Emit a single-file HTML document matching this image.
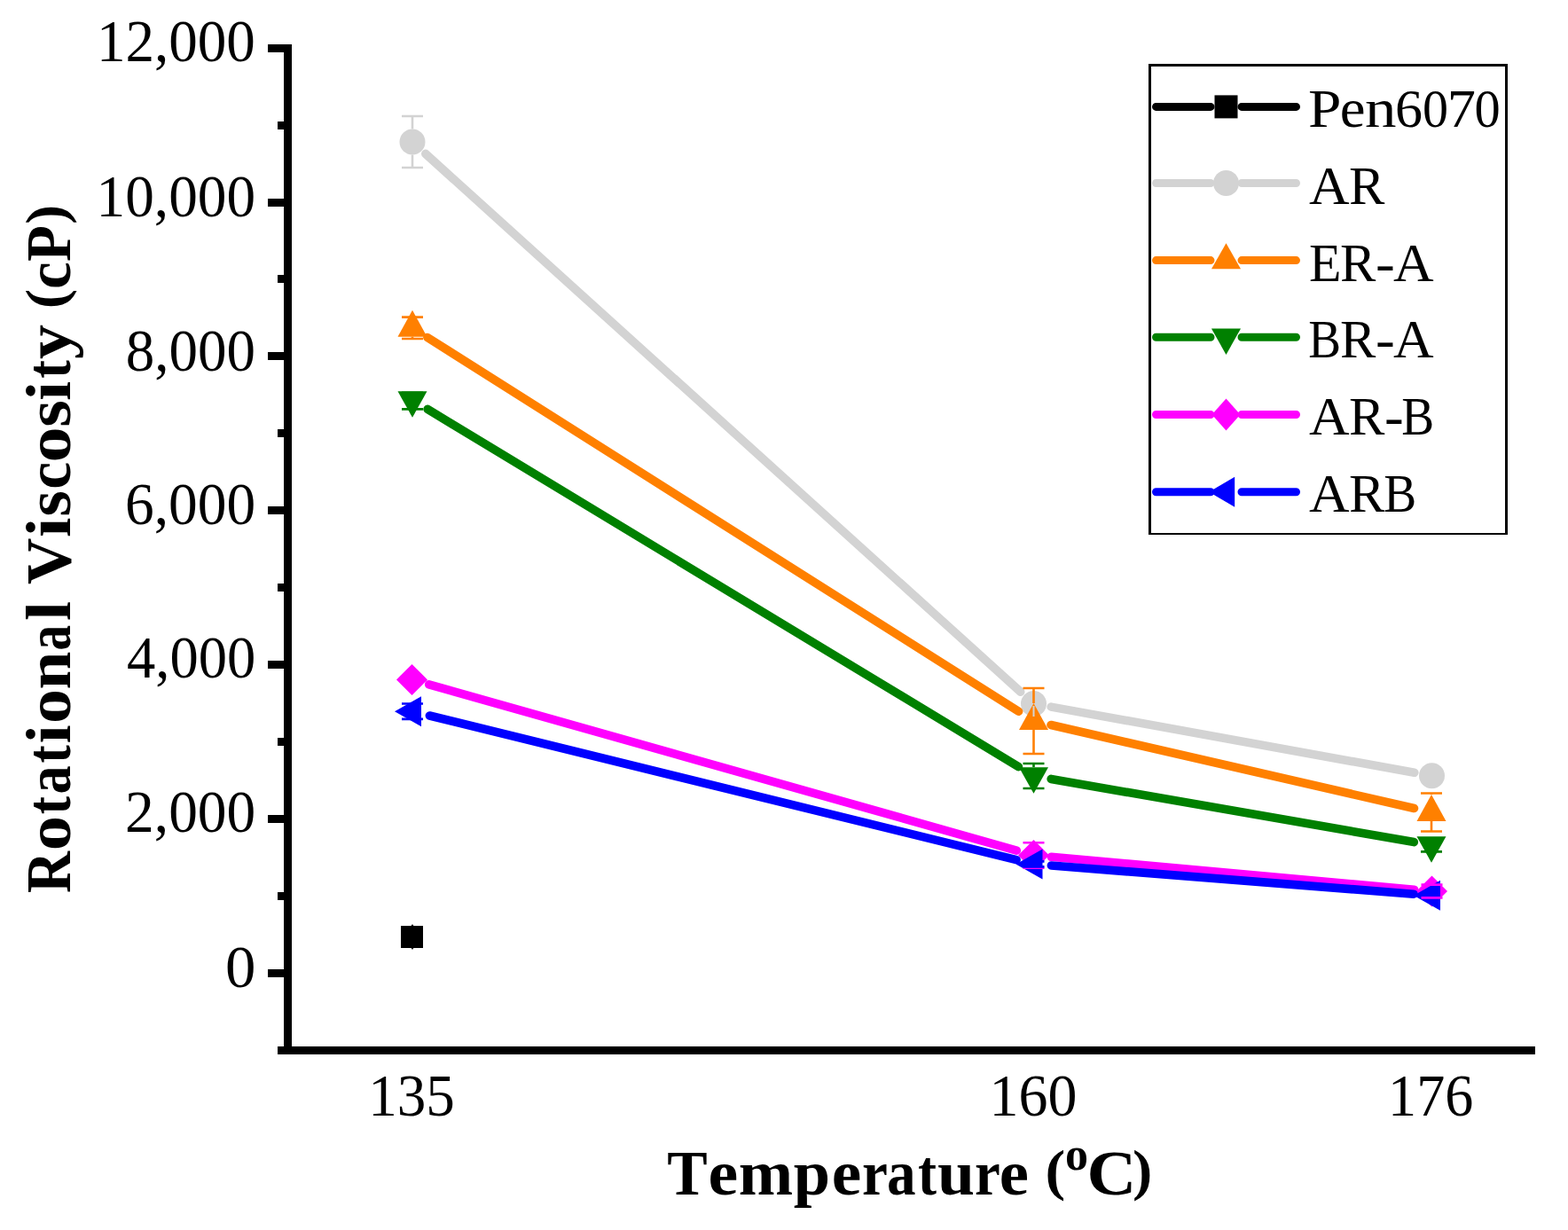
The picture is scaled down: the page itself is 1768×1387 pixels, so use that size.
<!DOCTYPE html>
<html><head><meta charset="utf-8"><title>Rotational Viscosity vs Temperature</title>
<style>html,body{margin:0;padding:0;background:#fff;overflow:hidden;}svg{display:block;}
text{font-family:"Liberation Serif",serif;fill:#000;}</style></head>
<body>
<svg width="1768" height="1387" viewBox="0 0 1768 1387">
<rect width="1768" height="1387" fill="#fff"/>
<g fill="#000">
<rect x="320" y="50" width="9" height="1139"/>
<rect x="313" y="1180" width="1418" height="9"/>
<rect x="302" y="1093" width="18" height="9"/>
<rect x="302" y="919" width="18" height="9"/>
<rect x="302" y="745" width="18" height="9"/>
<rect x="302" y="571" width="18" height="9"/>
<rect x="302" y="397" width="18" height="9"/>
<rect x="302" y="224" width="18" height="9"/>
<rect x="302" y="50" width="18" height="9"/>
<rect x="313" y="1006" width="7" height="9"/>
<rect x="313" y="832" width="7" height="9"/>
<rect x="313" y="658" width="7" height="9"/>
<rect x="313" y="484" width="7" height="9"/>
<rect x="313" y="310" width="7" height="9"/>
<rect x="313" y="137" width="7" height="9"/>
</g>
<rect x="452.0" y="1044.0" width="25.0" height="25.0" fill="#000"/>
<line x1="479.8" y1="173.4" x2="1150.7" y2="780.1" stroke="#d3d3d3" stroke-width="9.6" stroke-linecap="round"/>
<line x1="1185.2" y1="797.1" x2="1594.8" y2="871.2" stroke="#d3d3d3" stroke-width="9.6" stroke-linecap="round"/>
<circle cx="465.0" cy="160.0" r="14.5" fill="#d3d3d3"/>
<circle cx="1165.5" cy="793.5" r="14.5" fill="#d3d3d3"/>
<circle cx="1614.5" cy="874.8" r="14.5" fill="#d3d3d3"/>
<line x1="481.9" y1="380.5" x2="1148.6" y2="802.3" stroke="#ff8000" stroke-width="9.6" stroke-linecap="round"/>
<line x1="1185.0" y1="817.5" x2="1594.5" y2="911.5" stroke="#ff8000" stroke-width="9.6" stroke-linecap="round"/>
<polygon points="465.0,349.8 481.5,379.8 448.5,379.8" fill="#ff8000"/>
<polygon points="1165.5,793.0 1182.0,823.0 1149.0,823.0" fill="#ff8000"/>
<polygon points="1614.0,896.0 1630.5,926.0 1597.5,926.0" fill="#ff8000"/>
<line x1="482.1" y1="461.4" x2="1148.4" y2="864.6" stroke="#008000" stroke-width="9.6" stroke-linecap="round"/>
<line x1="1185.2" y1="878.4" x2="1594.3" y2="949.6" stroke="#008000" stroke-width="9.6" stroke-linecap="round"/>
<polygon points="448.5,441.2 481.5,441.2 465.0,470.7" fill="#008000"/>
<polygon points="1149.0,865.2 1182.0,865.2 1165.5,894.7" fill="#008000"/>
<polygon points="1597.5,943.2 1630.5,943.2 1614.0,972.7" fill="#008000"/>
<line x1="483.7" y1="771.8" x2="1146.3" y2="959.1" stroke="#ff00ff" stroke-width="9.6" stroke-linecap="round"/>
<line x1="1185.4" y1="966.3" x2="1594.6" y2="1003.2" stroke="#ff00ff" stroke-width="9.6" stroke-linecap="round"/>
<polygon points="464.5,748.9 482.0,766.4 464.5,783.9 447.0,766.4" fill="#ff00ff"/>
<polygon points="1165.5,947.0 1183.0,964.5 1165.5,982.0 1148.0,964.5" fill="#ff00ff"/>
<polygon points="1614.5,987.5 1632.0,1005.0 1614.5,1022.5 1597.0,1005.0" fill="#ff00ff"/>
<line x1="484.4" y1="807.0" x2="1146.1" y2="969.6" stroke="#0000ff" stroke-width="9.6" stroke-linecap="round"/>
<line x1="1185.4" y1="976.0" x2="1594.1" y2="1008.2" stroke="#0000ff" stroke-width="9.6" stroke-linecap="round"/>
<polygon points="445.0,802.2 475.0,785.2 475.0,819.2" fill="#0000ff"/>
<polygon points="1145.5,974.4 1175.5,957.4 1175.5,991.4" fill="#0000ff"/>
<polygon points="1594.0,1009.8 1624.0,992.8 1624.0,1026.8" fill="#0000ff"/>
<path d="M465,1043.5V1069.5" stroke="#000" stroke-width="2.2" stroke-linecap="round"/>
<path d="M465.0,131.0V145.5M465.0,174.5V189.0M453.0,131.0H477.0M453.0,189.0H477.0" stroke="#d3d3d3" stroke-width="2.6" fill="none"/>


<path d="M465.0,379.8V382.0M453.0,357.6H477.0M453.0,382.0H477.0" stroke="#ff8000" stroke-width="2.6" fill="none"/>
<path d="M1165.5,776.0V793.0M1165.5,823.0V850.0M1153.5,776.0H1177.5M1153.5,850.0H1177.5" stroke="#ff8000" stroke-width="2.6" fill="none"/>
<path d="M1614.0,894.5V896.0M1614.0,926.0V937.5M1602.0,894.5H1626.0M1602.0,937.5H1626.0" stroke="#ff8000" stroke-width="2.6" fill="none"/>
<path d="M453.0,442.7H477.0M453.0,461.4H477.0" stroke="#008000" stroke-width="2.6" fill="none"/>
<path d="M1165.5,861.0V865.0M1153.5,861.0H1177.5M1153.5,889.0H1177.5" stroke="#008000" stroke-width="2.6" fill="none"/>
<path d="M1602.0,945.6H1626.0M1602.0,960.4H1626.0" stroke="#008000" stroke-width="2.6" fill="none"/>

<path d="M1153.5,950.2H1177.5M1153.5,978.8H1177.5" stroke="#ff00ff" stroke-width="2.6" fill="none"/>
<path d="M1602.5,997.6H1626.5M1602.5,1012.4H1626.5" stroke="#ff00ff" stroke-width="2.6" fill="none"/>
<path d="M453.0,793.5H477.0M453.0,810.9H477.0" stroke="#0000ff" stroke-width="2.6" fill="none"/>
<path d="M1153.5,971.4H1177.5M1153.5,977.4H1177.5" stroke="#0000ff" stroke-width="2.6" fill="none"/>

<rect x="1164.5" y="796" width="2" height="12" fill="#d3d3d3"/>
<path d="M1295,72h405v3h-405zM1295,72h3v531h-3zM1697,72h3v531h-3zM1295,601h405v2h-405z" fill="#000"/>
<path d="M1303.5,120.4H1365M1400,120.4H1461.5" stroke="#000" stroke-width="9" stroke-linecap="round" fill="none"/>
<rect x="1369.5" y="107.4" width="26.0" height="26.0" fill="#000"/>
<path d="M1303.5,206.5H1365M1400,206.5H1461.5" stroke="#d3d3d3" stroke-width="9" stroke-linecap="round" fill="none"/>
<circle cx="1382.5" cy="206.5" r="14.5" fill="#d3d3d3"/>
<path d="M1303.5,293.6H1365M1400,293.6H1461.5" stroke="#ff8000" stroke-width="9" stroke-linecap="round" fill="none"/>
<polygon points="1382.5,274.3 1399.0,303.3 1366.0,303.3" fill="#ff8000"/>
<path d="M1303.5,380.3H1365M1400,380.3H1461.5" stroke="#008000" stroke-width="9" stroke-linecap="round" fill="none"/>
<polygon points="1366.0,370.5 1399.0,370.5 1382.5,400.0" fill="#008000"/>
<path d="M1303.5,467.5H1365M1400,467.5H1461.5" stroke="#ff00ff" stroke-width="9" stroke-linecap="round" fill="none"/>
<polygon points="1382.5,449.5 1398.5,467.5 1382.5,485.5 1366.5,467.5" fill="#ff00ff"/>
<path d="M1303.5,554.7H1365M1400,554.7H1461.5" stroke="#0000ff" stroke-width="9" stroke-linecap="round" fill="none"/>
<polygon points="1363.2,554.7 1392.2,537.7 1392.2,571.7" fill="#0000ff"/>
<text x="254.0" y="1112.8" font-size="68" textLength="34.4" lengthAdjust="spacingAndGlyphs">0</text>
<text x="141.1" y="937.9" font-size="68" textLength="147.1" lengthAdjust="spacingAndGlyphs">2,000</text>
<text x="143.0" y="764.2" font-size="68" textLength="145.2" lengthAdjust="spacingAndGlyphs">4,000</text>
<text x="141.0" y="590.9" font-size="68" textLength="147.2" lengthAdjust="spacingAndGlyphs">6,000</text>
<text x="141.8" y="417.5" font-size="68" textLength="146.3" lengthAdjust="spacingAndGlyphs">8,000</text>
<text x="108.6" y="243.7" font-size="68" textLength="179.5" lengthAdjust="spacingAndGlyphs">10,000</text>
<text x="109.0" y="69.2" font-size="68" textLength="178.9" lengthAdjust="spacingAndGlyphs">12,000</text>
<text x="415.3" y="1258" font-size="68" textLength="97.6" lengthAdjust="spacingAndGlyphs">135</text>
<text x="1115.5" y="1258" font-size="68" textLength="98.9" lengthAdjust="spacingAndGlyphs">160</text>
<text x="1565.1" y="1258" font-size="68" textLength="96.1" lengthAdjust="spacingAndGlyphs">176</text>
<text font-size="62"><tspan x="1475.0" y="143" textLength="37.4" lengthAdjust="spacingAndGlyphs">P</tspan><tspan x="1510.8" y="143" textLength="28.8" lengthAdjust="spacingAndGlyphs">e</tspan><tspan x="1539.1" y="143" textLength="35.5" lengthAdjust="spacingAndGlyphs">n</tspan><tspan x="1573.0" y="143" textLength="31.0" lengthAdjust="spacingAndGlyphs">6</tspan><tspan x="1604.1" y="143" textLength="29.0" lengthAdjust="spacingAndGlyphs">0</tspan><tspan x="1631.7" y="143" textLength="32.2" lengthAdjust="spacingAndGlyphs">7</tspan><tspan x="1662.6" y="143" textLength="29.2" lengthAdjust="spacingAndGlyphs">0</tspan></text>
<text font-size="62"><tspan x="1476.1" y="230" textLength="45.6" lengthAdjust="spacingAndGlyphs">A</tspan><tspan x="1520.9" y="230" textLength="40.4" lengthAdjust="spacingAndGlyphs">R</tspan></text>
<text font-size="62"><tspan x="1476.1" y="317" textLength="36.5" lengthAdjust="spacingAndGlyphs">E</tspan><tspan x="1511.1" y="317" textLength="40.3" lengthAdjust="spacingAndGlyphs">R</tspan><tspan x="1551.0" y="317" textLength="21.8" lengthAdjust="spacingAndGlyphs">-</tspan><tspan x="1571.1" y="317" textLength="45.6" lengthAdjust="spacingAndGlyphs">A</tspan></text>
<text font-size="62"><tspan x="1475.3" y="403.4" textLength="36.8" lengthAdjust="spacingAndGlyphs">B</tspan><tspan x="1511.1" y="403.4" textLength="40.3" lengthAdjust="spacingAndGlyphs">R</tspan><tspan x="1551.0" y="403.4" textLength="21.8" lengthAdjust="spacingAndGlyphs">-</tspan><tspan x="1571.1" y="403.4" textLength="45.6" lengthAdjust="spacingAndGlyphs">A</tspan></text>
<text font-size="62"><tspan x="1476.1" y="489.5" textLength="45.6" lengthAdjust="spacingAndGlyphs">A</tspan><tspan x="1520.9" y="489.5" textLength="40.4" lengthAdjust="spacingAndGlyphs">R</tspan><tspan x="1561.1" y="489.5" textLength="21.7" lengthAdjust="spacingAndGlyphs">-</tspan><tspan x="1580.2" y="489.5" textLength="36.9" lengthAdjust="spacingAndGlyphs">B</tspan></text>
<text font-size="62"><tspan x="1476.1" y="576.6" textLength="45.6" lengthAdjust="spacingAndGlyphs">A</tspan><tspan x="1520.9" y="576.6" textLength="40.4" lengthAdjust="spacingAndGlyphs">R</tspan><tspan x="1560.3" y="576.6" textLength="36.9" lengthAdjust="spacingAndGlyphs">B</tspan></text>
<text transform="rotate(-90)" font-size="72" font-weight="bold"><tspan x="-1007.0" y="79" textLength="47.0" lengthAdjust="spacingAndGlyphs">R</tspan><tspan x="-959.2" y="79" textLength="39.2" lengthAdjust="spacingAndGlyphs">o</tspan><tspan x="-918.2" y="79" textLength="20.2" lengthAdjust="spacingAndGlyphs">t</tspan><tspan x="-895.4" y="79" textLength="32.3" lengthAdjust="spacingAndGlyphs">a</tspan><tspan x="-860.5" y="79" textLength="20.2" lengthAdjust="spacingAndGlyphs">t</tspan><tspan x="-838.6" y="79" textLength="21.2" lengthAdjust="spacingAndGlyphs">i</tspan><tspan x="-816.0" y="79" textLength="39.0" lengthAdjust="spacingAndGlyphs">o</tspan><tspan x="-777.5" y="79" textLength="42.9" lengthAdjust="spacingAndGlyphs">n</tspan><tspan x="-733.4" y="79" textLength="28.6" lengthAdjust="spacingAndGlyphs">a</tspan><tspan x="-699.9" y="79" textLength="22.0" lengthAdjust="spacingAndGlyphs">l</tspan> <tspan x="-658.9" y="79" textLength="52.4" lengthAdjust="spacingAndGlyphs">V</tspan><tspan x="-606.1" y="79" textLength="22.4" lengthAdjust="spacingAndGlyphs">i</tspan><tspan x="-582.5" y="79" textLength="29.4" lengthAdjust="spacingAndGlyphs">s</tspan><tspan x="-551.8" y="79" textLength="31.0" lengthAdjust="spacingAndGlyphs">c</tspan><tspan x="-521.5" y="79" textLength="40.0" lengthAdjust="spacingAndGlyphs">o</tspan><tspan x="-481.7" y="79" textLength="30.6" lengthAdjust="spacingAndGlyphs">s</tspan><tspan x="-451.9" y="79" textLength="22.3" lengthAdjust="spacingAndGlyphs">i</tspan><tspan x="-426.7" y="79" textLength="20.6" lengthAdjust="spacingAndGlyphs">t</tspan><tspan x="-404.9" y="79" textLength="39.0" lengthAdjust="spacingAndGlyphs">y</tspan> <tspan x="-348.2" y="72.75" font-size="63" textLength="22.3" lengthAdjust="spacingAndGlyphs">(</tspan><tspan x="-325.9" y="79" textLength="30.8" lengthAdjust="spacingAndGlyphs">c</tspan><tspan x="-294.9" y="79" textLength="40.9" lengthAdjust="spacingAndGlyphs">P</tspan><tspan x="-252.7" y="72.75" font-size="63" textLength="21.8" lengthAdjust="spacingAndGlyphs">)</tspan></text>
<text font-size="72" font-weight="bold"><tspan x="752.2" y="1347" textLength="45.4" lengthAdjust="spacingAndGlyphs">T</tspan><tspan x="798.6" y="1347" textLength="33.7" lengthAdjust="spacingAndGlyphs">e</tspan><tspan x="832.8" y="1347" textLength="61.4" lengthAdjust="spacingAndGlyphs">m</tspan><tspan x="894.8" y="1347" textLength="41.3" lengthAdjust="spacingAndGlyphs">p</tspan><tspan x="937.7" y="1347" textLength="33.5" lengthAdjust="spacingAndGlyphs">e</tspan><tspan x="971.9" y="1347" textLength="28.9" lengthAdjust="spacingAndGlyphs">r</tspan><tspan x="1000.1" y="1347" textLength="32.6" lengthAdjust="spacingAndGlyphs">a</tspan><tspan x="1035.0" y="1347" textLength="21.0" lengthAdjust="spacingAndGlyphs">t</tspan><tspan x="1056.9" y="1347" textLength="42.0" lengthAdjust="spacingAndGlyphs">u</tspan><tspan x="1099.0" y="1347" textLength="28.8" lengthAdjust="spacingAndGlyphs">r</tspan><tspan x="1126.8" y="1347" textLength="33.2" lengthAdjust="spacingAndGlyphs">e</tspan> <tspan x="1178.5" y="1340.5" font-size="63" textLength="22.7" lengthAdjust="spacingAndGlyphs">(</tspan><tspan x="1201.0" y="1318.8" font-size="52" textLength="26.0" lengthAdjust="spacingAndGlyphs">o</tspan><tspan x="1225.5" y="1347" textLength="55.8" lengthAdjust="spacingAndGlyphs">C</tspan><tspan x="1276.9" y="1340.5" font-size="63" textLength="22.3" lengthAdjust="spacingAndGlyphs">)</tspan></text>
</svg>
</body></html>
